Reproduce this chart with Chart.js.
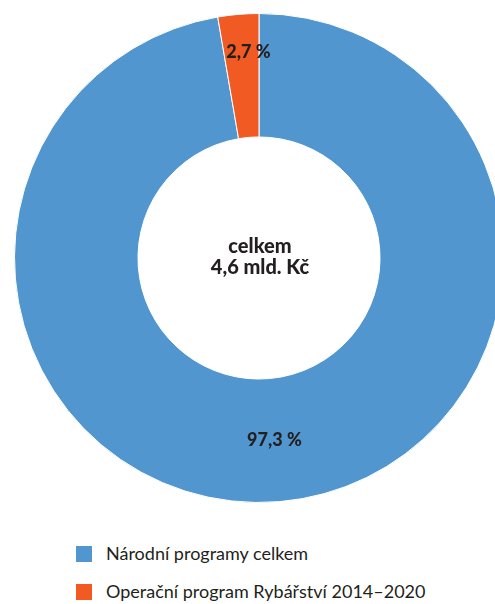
<!DOCTYPE html>
<html>
<head>
<meta charset="utf-8">
<script src="https://cdn.jsdelivr.net/npm/chart.js@4.4.1/dist/chart.umd.min.js"></script>
<style>
  body { margin: 0; background: #fff; overflow: hidden; width: 495px; height: 604px; }
  #wrap { position: absolute; left: 0; top: 0; width: 518px; height: 516px; }
  .legend { position: absolute; left: 76px; font-family: Lato, sans-serif; font-size: 18px; color: #231f20; }
  .legend div { position: relative; height: 38px; }
  .legend span.box { position: absolute; left: 0; top: 0; width: 16px; height: 16px; }
  .legend span.txt { position: absolute; left: 30px; top: -4px; white-space: nowrap; }
</style>
</head>
<body>
<div id="wrap"><canvas id="myChart" width="518" height="516"></canvas></div>
<div class="legend" id="legend" style="top:546px"></div>
<script>
const labels = ['Národní programy celkem', 'Operační program Rybářství 2014–2020'];
const values = [97.3, 2.7];
const colors = ['#5296d0', '#f15a22'];
const centerLines = ['celkem', '4,6 mld. Kč'];

const fontFamily = 'Lato, sans-serif'

// legenda vlevo dole
const legend = document.getElementById('legend')
labels.forEach((label, i) => {
    const row = document.createElement('div')
    row.innerHTML = '<span class="box" style="background:' + colors[i] + '"></span><span class="txt">' + label + '</span>'
    legend.appendChild(row)
})

// popisky hodnot + text uprostred
const labelPlugin = {
    id: 'labelPlugin',
    afterDatasetsDraw(chart) {
        const ctx = chart.ctx
        const meta = chart.getDatasetMeta(0)
        ctx.save()
        ctx.fillStyle = '#231f20'
        ctx.textAlign = 'center'
        ctx.textBaseline = 'middle'
        ctx.font = '900 18px ' + fontFamily
        meta.data.forEach((arc, i) => {
            const p = arc.getProps(['x', 'y', 'startAngle', 'endAngle', 'innerRadius', 'outerRadius'], true)
            const mid = (p.startAngle + p.endAngle) / 2
            let r = (p.innerRadius + p.outerRadius) / 2
            if (values[i] < 5) r = p.outerRadius - 38   // maly dilek - popisek blize okraji
            const text = values[i].toFixed(1).replace('.', ',') + ' %'
            ctx.fillText(text, p.x + Math.cos(mid) * r + (values[i] < 5 ? 7 : 0), p.y + Math.sin(mid) * r)
        })
        const cx = meta.data[0].x
        const cy = meta.data[0].y
        ctx.font = '900 20px ' + fontFamily
        ctx.fillText(centerLines[0], cx + 1, cy - 11)
        ctx.fillText(centerLines[1], cx + 1, cy + 10)
        ctx.restore()
    }
}

new Chart(document.getElementById('myChart'), {
    type: 'doughnut',
    data: {
        labels: labels,
        datasets: [{
            data: values,
            backgroundColor: colors,
            borderColor: '#ffffff',
            borderWidth: 1
        }]
    },
    options: {
        responsive: false,
        animation: false,
        cutout: '49.5%',
        layout: { padding: 13 },
        plugins: {
            legend: { display: false },
            tooltip: { enabled: false }
        }
    },
    plugins: [labelPlugin]
});
</script>
</body>
</html>
